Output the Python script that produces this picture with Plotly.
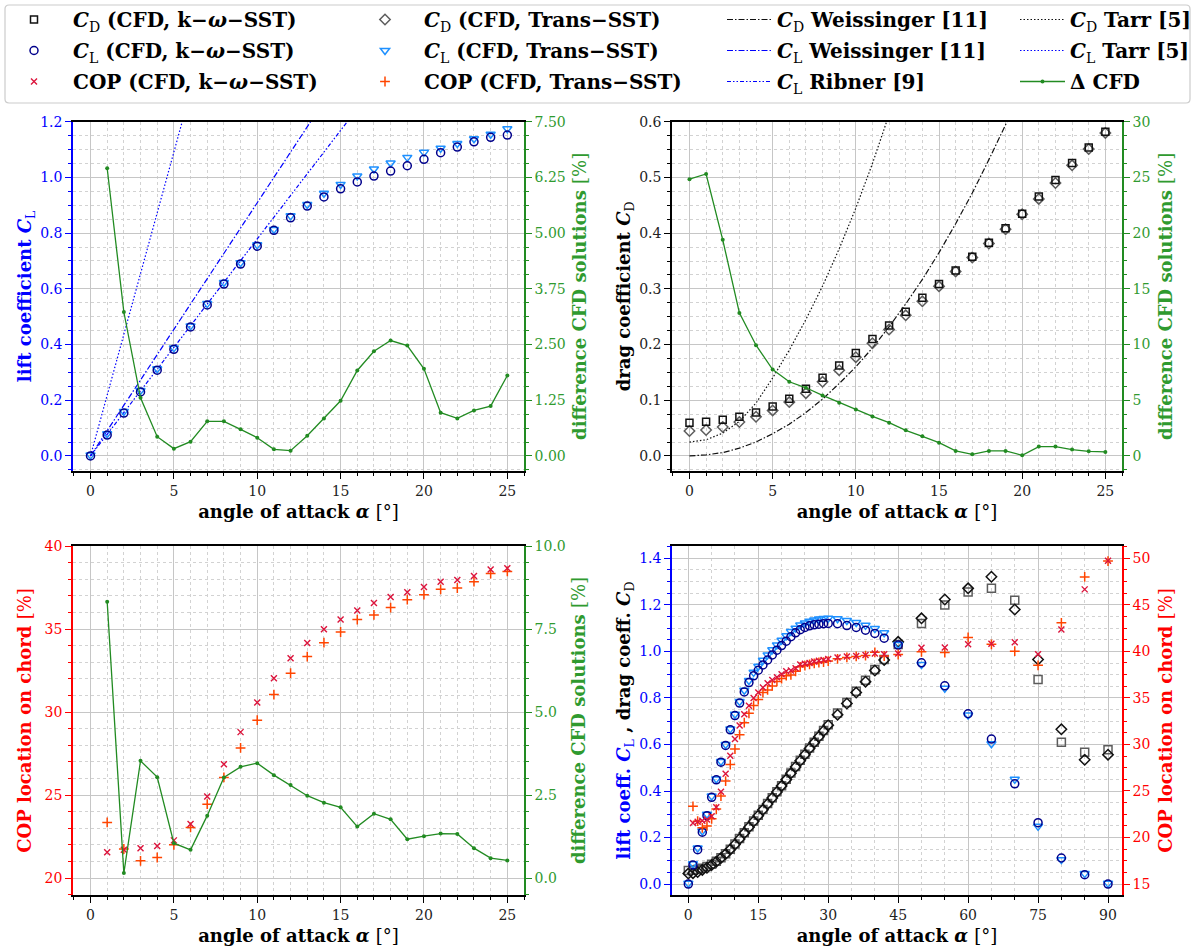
import plotly.graph_objects as go

W, H = 1192, 951
FONT = "DejaVu Serif"

# ---------------------------------------------------------------- data
alpha25 = list(range(0, 26))
alpha1_25 = list(range(1, 26))

# top-left: lift coefficient
cl_kw = [0.0, 0.075, 0.154, 0.230, 0.308, 0.383, 0.463, 0.542, 0.617, 0.689, 0.753, 0.810, 0.855,
         0.897, 0.930, 0.959, 0.984, 1.005, 1.023, 1.042, 1.065, 1.089, 1.109, 1.128, 1.144, 1.152]
cl_tr = [0.003, 0.080, 0.160, 0.235, 0.313, 0.388, 0.467, 0.547, 0.623, 0.694, 0.758, 0.813, 0.862,
         0.903, 0.943, 0.975, 1.005, 1.030, 1.052, 1.072, 1.090, 1.105, 1.122, 1.139, 1.155, 1.175]
dcfd_cl = [6.455, 3.23, 1.306, 0.433, 0.164, 0.321, 0.776, 0.776, 0.597, 0.41, 0.149, 0.119, 0.455,
           0.843, 1.239, 1.918, 2.35, 2.59, 2.478, 1.955, 0.97, 0.843, 1.022, 1.119, 1.806]
tarr_cl_alpha = [0.0, 5.5]
tarr_cl = [0.0, 1.2]
weis_cl_alpha = [0.0, 13.2]
weis_cl = [0.0, 1.2]
ribner_cl_alpha = [0.0, 15.4]
ribner_cl = [0.0, 1.2]

# top-right: drag coefficient
cd_kw = [0.0597, 0.0615, 0.065, 0.0704, 0.078, 0.089, 0.1027, 0.1206, 0.1403, 0.1624, 0.185, 0.210,
         0.234, 0.259, 0.284, 0.3087, 0.333, 0.3576, 0.383, 0.409, 0.435, 0.466, 0.4955, 0.526, 0.554, 0.582]
cd_tr = [0.0448, 0.0466, 0.052, 0.061, 0.0704, 0.0818, 0.0967, 0.1128, 0.1331, 0.154, 0.1773, 0.2024,
         0.2269, 0.2525, 0.2776, 0.3045, 0.3313, 0.3564, 0.3815, 0.4072, 0.434, 0.4615, 0.490, 0.5218,
         0.551, 0.580]
dcfd_cd = [24.84, 25.31, 19.4, 12.84, 9.94, 7.76, 6.66, 6.12, 5.43, 4.78, 4.18, 3.55, 2.99, 2.30, 1.76,
           1.19, 0.45, 0.15, 0.45, 0.45, 0.06, 0.84, 0.84, 0.57, 0.42, 0.36]
tarr_cd_alpha = [0, 1, 2, 3, 4, 5, 6, 7, 8, 9, 10, 11, 11.85]
tarr_cd = [0.025, 0.029, 0.041, 0.062, 0.095, 0.140, 0.190, 0.245, 0.305, 0.372, 0.445, 0.525, 0.600]
weis_cd_alpha = [0, 1, 2, 3, 4, 5, 6, 7, 8, 9, 10, 11, 12, 13, 14, 15, 16, 17, 18, 19, 19.2]
weis_cd = [0.0, 0.002, 0.006, 0.014, 0.025, 0.040, 0.057, 0.078, 0.102, 0.130, 0.160, 0.194, 0.232,
           0.273, 0.317, 0.365, 0.417, 0.472, 0.532, 0.595, 0.607]

# bottom-left: centre of pressure
cop_kw = [21.56, 21.7, 21.8, 21.93, 22.27, 23.25, 24.91, 26.86, 28.79, 30.57, 32.04, 33.24, 34.16,
          34.98, 35.57, 36.11, 36.57, 36.93, 37.21, 37.53, 37.85, 37.95, 38.19, 38.58, 38.66]
cop_tr = [23.35, 21.75, 21.04, 21.24, 22.0, 23.05, 24.45, 26.06, 27.84, 29.51, 31.05, 32.34, 33.34,
          34.18, 34.82, 35.57, 35.85, 36.29, 36.77, 37.07, 37.39, 37.47, 37.85, 38.34, 38.47]
dcfd_cop = [8.32, 0.15, 3.53, 3.04, 1.05, 0.85, 1.88, 3.03, 3.35, 3.46, 3.1, 2.8, 2.48, 2.27, 2.13,
            1.55, 1.94, 1.77, 1.17, 1.26, 1.34, 1.33, 0.9, 0.6, 0.53]

# bottom-right: extended angle range
alpha_ext = list(range(0, 31)) + [32, 34, 36, 38, 40, 42, 45, 50, 55, 60, 65, 70, 75, 80, 85, 90]
alpha_ext_cop = alpha_ext[1:]
cl_kw_ext = [0.0, 0.082, 0.148, 0.223, 0.294, 0.373, 0.448, 0.524, 0.596, 0.663, 0.724, 0.778, 0.826,
             0.866, 0.895, 0.919, 0.942, 0.963, 0.985, 1.005, 1.025, 1.044, 1.063, 1.080, 1.093, 1.103,
             1.110, 1.114, 1.117, 1.119, 1.120,
             1.119, 1.111, 1.103, 1.091, 1.077, 1.057, 1.027, 0.951, 0.852, 0.732, 0.623, 0.431, 0.264,
             0.112, 0.040, 0.0]
cl_tr_ext = [0.003, 0.087, 0.155, 0.228, 0.300, 0.378, 0.452, 0.527, 0.600, 0.667, 0.730, 0.785, 0.833,
             0.875, 0.910, 0.936, 0.962, 0.985, 1.007, 1.028, 1.048, 1.067, 1.085, 1.100, 1.113, 1.122,
             1.130, 1.135, 1.139, 1.141, 1.142,
             1.140, 1.133, 1.124, 1.112, 1.098, 1.080, 1.030, 0.944, 0.842, 0.727, 0.603, 0.450, 0.248,
             0.105, 0.045, 0.003]
cd_kw_ext = [0.058, 0.060, 0.063, 0.068, 0.075, 0.085, 0.098, 0.113, 0.130, 0.150, 0.172, 0.196, 0.221,
             0.246, 0.271, 0.296, 0.321, 0.346, 0.371, 0.397, 0.423, 0.450, 0.477, 0.505, 0.532, 0.558,
             0.585, 0.610, 0.635, 0.660, 0.685,
             0.735, 0.780, 0.829, 0.876, 0.922, 0.965, 1.030, 1.120, 1.199, 1.255, 1.271, 1.220, 0.879,
             0.610, 0.567, 0.577]
cd_tr_ext = [0.045, 0.047, 0.052, 0.061, 0.070, 0.082, 0.096, 0.112, 0.129, 0.149, 0.170, 0.194, 0.219,
             0.244, 0.269, 0.294, 0.319, 0.344, 0.370, 0.396, 0.422, 0.449, 0.476, 0.503, 0.530, 0.556,
             0.583, 0.608, 0.633, 0.658, 0.683,
             0.728, 0.776, 0.823, 0.870, 0.918, 0.963, 1.041, 1.142, 1.223, 1.271, 1.321, 1.180, 0.965,
             0.665, 0.534, 0.556]
cop_kw_ext = cop_kw + [38.76, 38.9, 39.0, 39.08, 39.19,
                       39.34, 39.44, 39.5, 39.6, 39.77, 39.7, 39.77, 40.38, 40.41, 40.77, 40.81, 40.99,
                       39.7, 42.35, 46.66, 49.74]
cop_tr_ext = cop_tr + [38.6, 38.7, 38.8, 38.85, 38.95,
                       39.2, 39.35, 39.45, 39.55, 39.9, 39.5, 39.66, 39.95, 39.87, 41.49, 40.75, 40.02,
                       38.5, 43.07, 48.0, 49.7]

# ---------------------------------------------------------------- styles
BLUE = "#0000ff"
GREEN = "#228b22"
GREEN_T = "#2f9a2f"
RED = "#ff0000"
NAVY = "#00008b"
DODGER = "#1e90ff"
CRIMSON = "#dc143c"
ORANGE = "#ff4500"
BLACK = "#111111"
GREY = "#5c5c5c"
GRID = "#c6c6c6"
MGRID = "#d2d2d2"

WEIS_DASH = "6px,2px,1.5px,2px"
RIB_DASH = "4px,2px,1.5px,2px,1.5px,2px"
DOT_DASH = "1.5px,2px"

TITLE_SIZE = 18
TICK_SIZE = 14


def fx(p):
    return p / W


def fy(p):
    return 1 - p / H


XTITLE = "<b>angle of attack <i>α</i> </b>[°]"
RTITLE = "<b>difference CFD solutions </b>[%]"


def x_axis(dom, rng, dtick, mdtick, anchor, standoff):
    return dict(
        domain=dom, range=rng, anchor=anchor, tick0=0, dtick=dtick,
        showline=True, linecolor="black", linewidth=1.6, mirror=True,
        ticks="outside", ticklen=6, tickwidth=1.2, tickcolor="black",
        showgrid=True, gridcolor=GRID, gridwidth=1, zeroline=False,
        minor=dict(tick0=0, dtick=mdtick, ticks="outside", ticklen=3.5, tickwidth=1,
                   tickcolor="black", showgrid=True, gridcolor=MGRID, griddash="dot", gridwidth=1),
        tickfont=dict(family=FONT, size=TICK_SIZE, color="#222222"),
        title=dict(text=XTITLE, font=dict(family=FONT, size=TITLE_SIZE, color="black"), standoff=standoff),
        automargin=True,
    )


def y_axis(dom, rng, dtick, mdtick, anchor, color, tcolor, title, titlecolor, standoff,
           side="left", overlaying=None, fmt=None, grid=True):
    d = dict(
        domain=dom, range=rng, anchor=anchor, side=side, tick0=0, dtick=dtick,
        showline=True, linecolor=color, linewidth=1.6,
        ticks="outside", ticklen=6, tickwidth=1.2, tickcolor=color,
        showgrid=grid, gridcolor=GRID, gridwidth=1, zeroline=False,
        minor=dict(tick0=0, dtick=mdtick, ticks="outside", ticklen=3.5, tickwidth=1,
                   tickcolor=color, showgrid=grid, gridcolor=MGRID, griddash="dot", gridwidth=1),
        tickfont=dict(family=FONT, size=TICK_SIZE, color=tcolor),
        title=dict(text=title, font=dict(family=FONT, size=TITLE_SIZE, color=titlecolor), standoff=standoff),
        automargin=True,
    )
    if overlaying:
        d["overlaying"] = overlaying
    if fmt:
        d["tickformat"] = fmt
    return d


fig = go.Figure()


def mk(symbol, color, size=8, lw=1.5):
    return dict(symbol=symbol, color=color, size=size, line=dict(width=lw, color=color))


def add(x, y, xa, ya, name=None, legend=None, rank=None, group=None, show=False, mode="markers",
        marker=None, line=None):
    tr = dict(x=x, y=y, xaxis=xa, yaxis=ya, mode=mode, showlegend=show, hoverinfo="skip")
    if name:
        tr["name"] = name
    if legend:
        tr["legend"] = legend
    if rank is not None:
        tr["legendrank"] = rank
    if group:
        tr["legendgroup"] = group
    if marker:
        tr["marker"] = marker
    if line:
        tr["line"] = line
    fig.add_trace(go.Scatter(**tr))


N_CD_KW = "<b><i>C</i></b><sub>D</sub><b> (CFD, k−<i>ω</i>−SST)</b>"
N_CL_KW = "<b><i>C</i></b><sub>L</sub><b> (CFD, k−<i>ω</i>−SST)</b>"
N_COP_KW = "<b>COP (CFD, k−<i>ω</i>−SST)</b>"
N_CD_TR = "<b><i>C</i></b><sub>D</sub><b> (CFD, Trans−SST)</b>"
N_CL_TR = "<b><i>C</i></b><sub>L</sub><b> (CFD, Trans−SST)</b>"
N_COP_TR = "<b>COP (CFD, Trans−SST)</b>"
N_CD_W = "<b><i>C</i></b><sub>D</sub><b> Weissinger [11]</b>"
N_CL_W = "<b><i>C</i></b><sub>L</sub><b> Weissinger [11]</b>"
N_CL_R = "<b><i>C</i></b><sub>L</sub><b> Ribner [9]</b>"
N_CD_T = "<b><i>C</i></b><sub>D</sub><b> Tarr [5]</b>"
N_CL_T = "<b><i>C</i></b><sub>L</sub><b> Tarr [5]</b>"
N_DCFD = "<b>Δ CFD</b>"

DCFD_LINE = dict(color=GREEN, width=1.3)
DCFD_MK = dict(symbol="circle", color=GREEN, size=4)

# ---- top-left: lift
add(tarr_cl_alpha, tarr_cl, "x", "y", N_CL_T, "legend4", 2, "clt", True, "lines",
    line=dict(color=BLUE, width=1.2, dash=DOT_DASH))
add(weis_cl_alpha, weis_cl, "x", "y", N_CL_W, "legend3", 2, "clw", True, "lines",
    line=dict(color=BLUE, width=1.2, dash=WEIS_DASH))
add(ribner_cl_alpha, ribner_cl, "x", "y", N_CL_R, "legend3", 3, "clr", True, "lines",
    line=dict(color=BLUE, width=1.2, dash=RIB_DASH))
add(alpha25, cl_tr, "x", "y", N_CL_TR, "legend2", 2, "cltr", True, marker=mk("triangle-down-open", DODGER))
add(alpha25, cl_kw, "x", "y", N_CL_KW, "legend", 2, "clkw", True, marker=mk("circle-open", NAVY))
add(alpha1_25, dcfd_cl, "x", "y2", N_DCFD, "legend4", 3, "dcfd", True, "lines+markers",
    marker=DCFD_MK, line=DCFD_LINE)

# ---- top-right: drag
add(tarr_cd_alpha, tarr_cd, "x2", "y3", N_CD_T, "legend4", 1, "cdt", True, "lines",
    line=dict(color=BLACK, width=1.2, dash=DOT_DASH))
add(weis_cd_alpha, weis_cd, "x2", "y3", N_CD_W, "legend3", 1, "cdw", True, "lines",
    line=dict(color=BLACK, width=1.2, dash=WEIS_DASH))
add(alpha25, cd_tr, "x2", "y3", N_CD_TR, "legend2", 1, "cdtr", True, marker=mk("diamond-open", GREY))
add(alpha25, cd_kw, "x2", "y3", N_CD_KW, "legend", 1, "cdkw", True, marker=mk("square-open", BLACK, 7))
add(alpha25, dcfd_cd, "x2", "y4", group="dcfd", mode="lines+markers", marker=DCFD_MK, line=DCFD_LINE)

# ---- bottom-left: centre of pressure
add(alpha1_25, cop_tr, "x3", "y5", N_COP_TR, "legend2", 3, "coptr", True,
    marker=mk("cross-thin-open", ORANGE, 7, 1.5))
add(alpha1_25, cop_kw, "x3", "y5", N_COP_KW, "legend", 3, "copkw", True,
    marker=mk("x-thin-open", CRIMSON, 6, 1.4))
add(alpha1_25, dcfd_cop, "x3", "y6", group="dcfd", mode="lines+markers", marker=DCFD_MK, line=DCFD_LINE)

# ---- bottom-right: extended range
add(alpha_ext, cd_kw_ext, "x4", "y7", group="cdkw", marker=mk("square-open", GREY, 8))
add(alpha_ext, cd_tr_ext, "x4", "y7", group="cdtr", marker=mk("diamond-open", BLACK, 8))
add(alpha_ext, cl_tr_ext, "x4", "y7", group="cltr", marker=mk("triangle-down-open", DODGER))
add(alpha_ext, cl_kw_ext, "x4", "y7", group="clkw", marker=mk("circle-open", NAVY))
add(alpha_ext_cop, cop_tr_ext, "x4", "y8", group="coptr", marker=mk("cross-thin-open", ORANGE, 7, 1.5))
add(alpha_ext_cop, cop_kw_ext, "x4", "y8", group="copkw", marker=mk("x-thin-open", CRIMSON, 6, 1.4))

# ---------------------------------------------------------------- layout
LX = [fx(73), fx(524)]
RX = [fx(672), fx(1122)]
TY = [fy(471), fy(121.7)]
BY = [fy(895), fy(546)]

XR25 = [-1.05, 26.0]

layout = dict(
    width=W, height=H,
    margin=dict(l=0, r=0, t=0, b=0, autoexpand=False),
    paper_bgcolor="white", plot_bgcolor="white",
    font=dict(family=FONT, color="black"),
    xaxis=x_axis(LX, XR25, 5, 1, "y", 8),
    xaxis2=x_axis(RX, XR25, 5, 1, "y3", 8),
    xaxis3=x_axis(LX, XR25, 5, 1, "y5", 8),
    xaxis4=x_axis(RX, [-3.5, 93.0], 15, 5, "y7", 8),
    yaxis=y_axis(TY, [-0.054, 1.2001], 0.2, 0.05, "x", BLUE, BLUE,
                 "<b>lift coefficient <i>C</i></b><sub>L</sub>", BLUE, 4, fmt=".1f"),
    yaxis2=y_axis(TY, [-0.3375, 7.5001], 1.25, 0.3125, "x", GREEN, GREEN_T, RTITLE, GREEN_T, 9,
                  side="right", overlaying="y", fmt=".2f", grid=False),
    yaxis3=y_axis(TY, [-0.027, 0.6001], 0.1, 0.025, "x2", "black", "#222222",
                  "<b>drag coefficient <i>C</i></b><sub>D</sub>", "black", 4, fmt=".1f"),
    yaxis4=y_axis(TY, [-1.35, 30.001], 5, 1.25, "x2", GREEN, GREEN_T, RTITLE, GREEN_T, 10,
                  side="right", overlaying="y3", grid=False),
    yaxis5=y_axis(BY, [18.98, 40.001], 5, 1, "x3", RED, RED,
                  "<b>COP location on chord </b>[%]", RED, 8),
    yaxis6=y_axis(BY, [-0.51, 10.001], 2.5, 0.5, "x3", GREEN, GREEN_T, RTITLE, GREEN_T, 8,
                  side="right", overlaying="y5", fmt=".1f", grid=False),
    yaxis7=y_axis(BY, [-0.047, 1.453], 0.2, 0.05, "x4", BLUE, BLUE,
                  '<span style="color:#0000ff"><b>lift coeff. <i>C</i></b><sub>L</sub></span>'
                  '<b> , drag coeff. <i>C</i></b><sub>D</sub>', "black", 4, fmt=".1f"),
    yaxis8=y_axis(BY, [13.82, 51.32], 5, 1.25, "x4", RED, RED,
                  "<b>COP location on chord </b>[%]", RED, 10,
                  side="right", overlaying="y7", grid=False),
)

LEG_FONT = dict(family=FONT, size=20, color="black")


def legend_cfg(xpx, itemwidth):
    return dict(x=fx(xpx), y=fy(0), xanchor="left", yanchor="top", orientation="v",
                bgcolor="rgba(0,0,0,0)", borderwidth=0, font=LEG_FONT, itemwidth=itemwidth,
                traceorder="grouped", tracegroupgap=2)


layout["legend"] = legend_cfg(-5, 68)
layout["legend2"] = legend_cfg(346, 68)
layout["legend3"] = legend_cfg(722, 45)
layout["legend4"] = legend_cfg(1015, 45)

# rounded frame around the legends
x0, x1, y0, y1, r = 5, 1190, 5, 103, 4
path = (f"M {fx(x0 + r)},{fy(y0)} L {fx(x1 - r)},{fy(y0)} Q {fx(x1)},{fy(y0)} {fx(x1)},{fy(y0 + r)} "
        f"L {fx(x1)},{fy(y1 - r)} Q {fx(x1)},{fy(y1)} {fx(x1 - r)},{fy(y1)} "
        f"L {fx(x0 + r)},{fy(y1)} Q {fx(x0)},{fy(y1)} {fx(x0)},{fy(y1 - r)} "
        f"L {fx(x0)},{fy(y0 + r)} Q {fx(x0)},{fy(y0)} {fx(x0 + r)},{fy(y0)} Z")
layout["shapes"] = [dict(type="path", xref="paper", yref="paper", path=path,
                         line=dict(color="#cccccc", width=1.2), fillcolor="rgba(0,0,0,0)", layer="below")]

fig.update_layout(**layout)
fig.write_html("out.html")
